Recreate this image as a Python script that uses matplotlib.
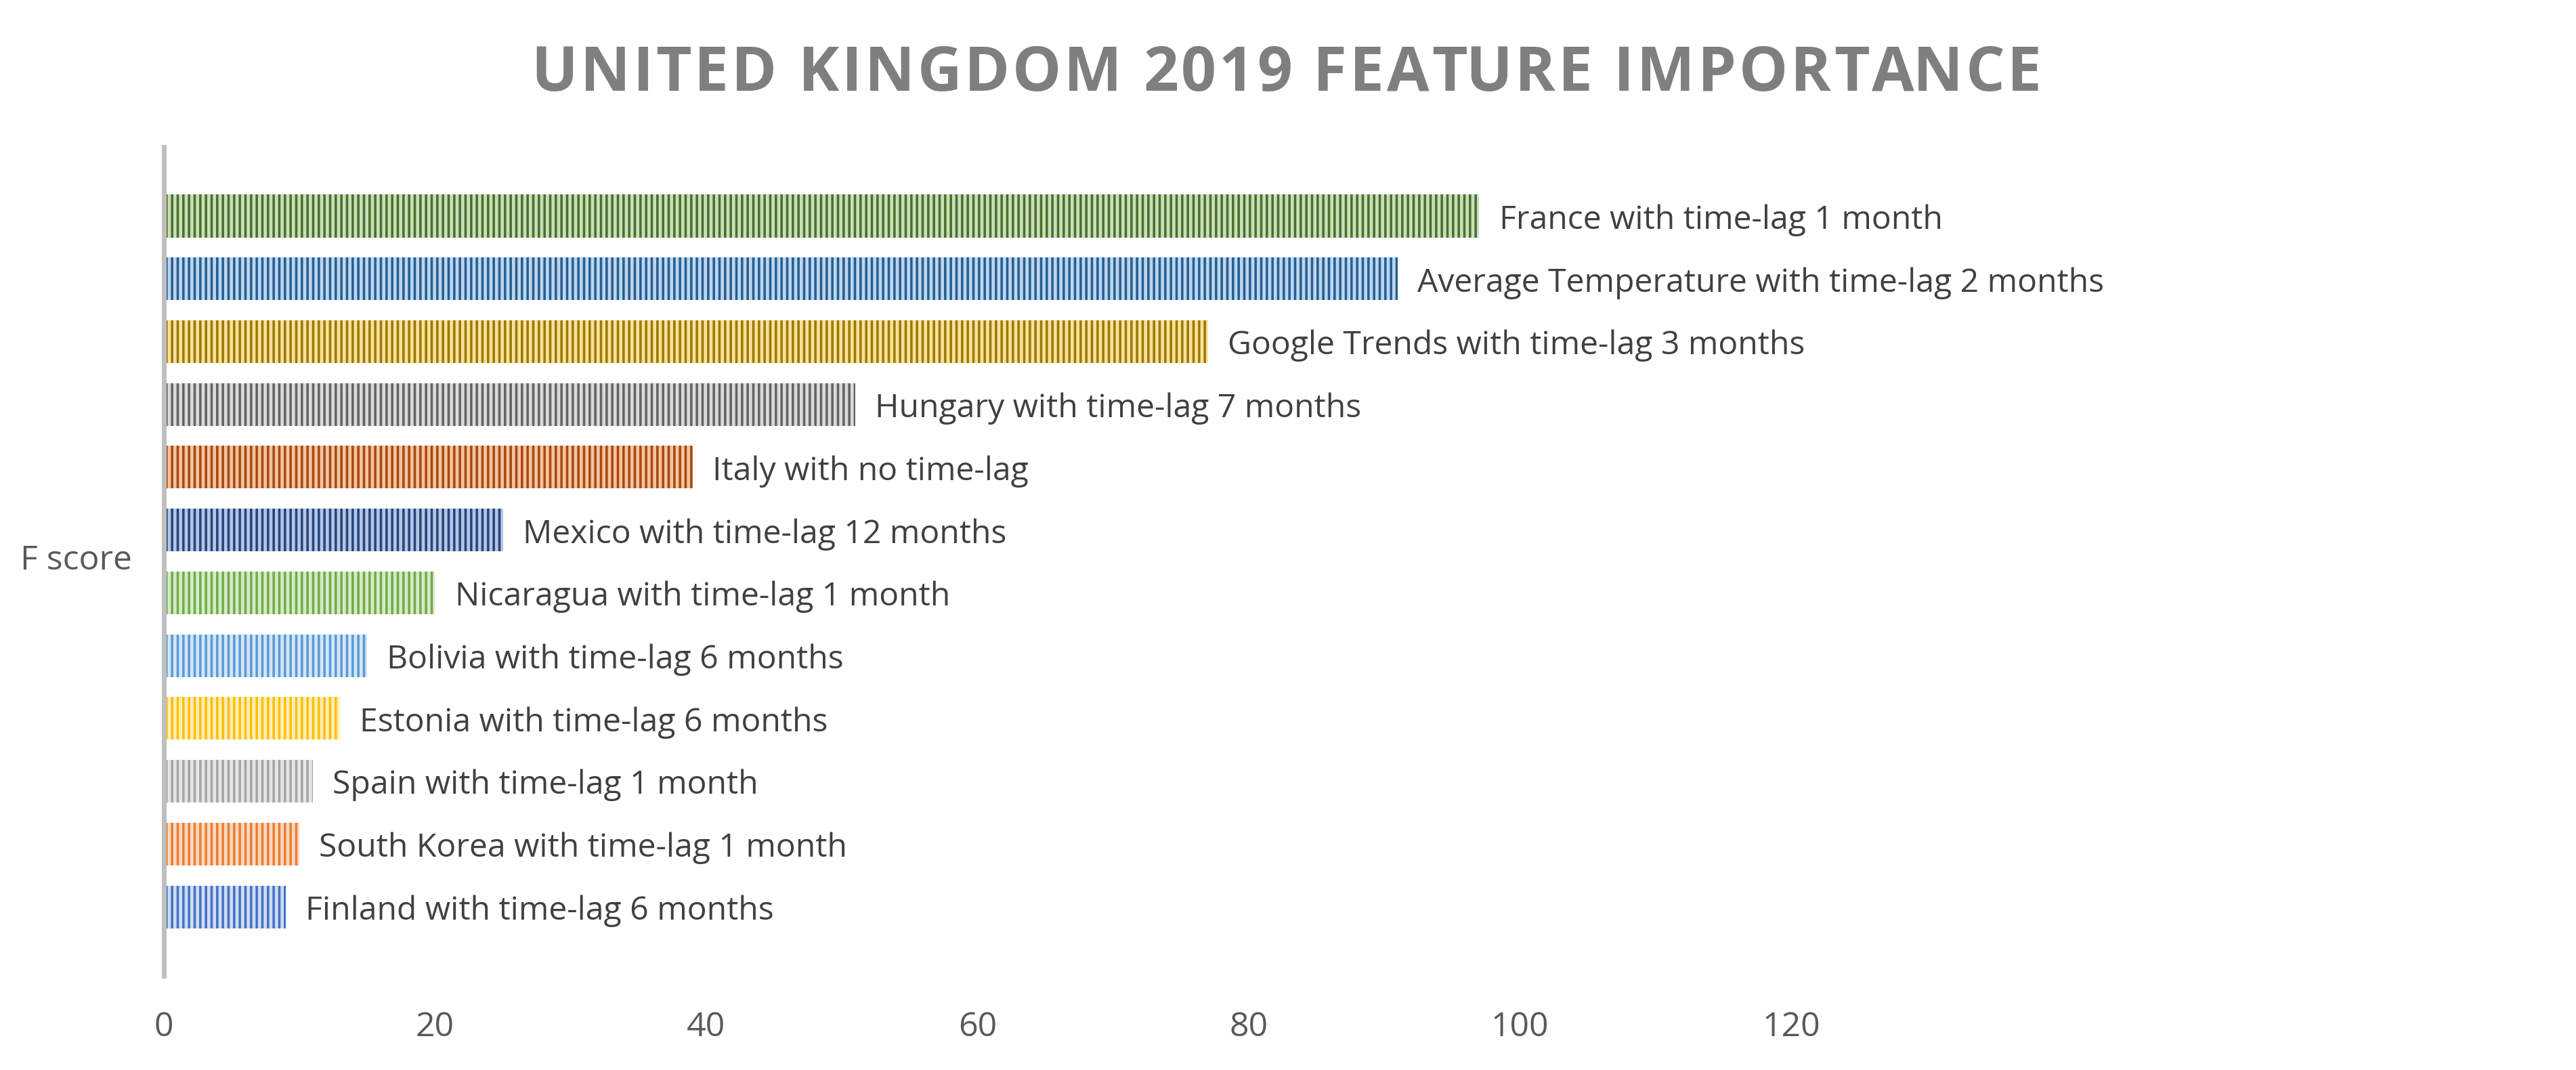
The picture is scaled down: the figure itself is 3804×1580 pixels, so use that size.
import matplotlib
matplotlib.use("Agg")
import matplotlib.pyplot as plt

# features, top to bottom
features = [
    "France with time-lag 1 month",
    "Average Temperature with time-lag 2 months",
    "Google Trends with time-lag 3 months",
    "Hungary with time-lag 7 months",
    "Italy with no time-lag",
    "Mexico with time-lag 12 months",
    "Nicaragua with time-lag 1 month",
    "Bolivia with time-lag 6 months",
    "Estonia with time-lag 6 months",
    "Spain with time-lag 1 month",
    "South Korea with time-lag 1 month",
    "Finland with time-lag 6 months",
]
f_scores = [97, 91, 77, 51, 39, 25, 20, 15, 13, 11, 10, 9]
x_ticks = [0, 20, 40, 60, 80, 100, 120]
title = "UNITED KINGDOM 2019 FEATURE IMPORTANCE"

# stripe colour / light fill per bar
stripe_colors = ["#4a6f2d", "#255e91", "#9e7800", "#636363", "#a9480f", "#26447a",
                 "#70ad47", "#5b9bd5", "#ffc000", "#a5a5a5", "#ed7d31", "#4472c4"]
fill_colors = ["#c9dfb8", "#bcd5ee", "#f7e19a", "#dadada", "#f3c3a0", "#b3c5e6",
               "#d6e9c9", "#d3e5f6", "#ffeebb", "#e6e6e6", "#f9d9c2", "#cfdcf2"]

plt.rcParams["font.family"] = ["Open Sans", "DejaVu Sans"]
plt.rcParams["hatch.linewidth"] = 0.85

W, H = 3804, 1581
fig = plt.figure(figsize=(W / 300, H / 300), dpi=300)
ax = fig.add_axes([0.0636, 0.0879, 0.6317, 0.7742])

n = len(features)
ypos = [n - 1 - i for i in range(n)]
for y, v, sc, fc in zip(ypos, f_scores, stripe_colors, fill_colors):
    ax.barh(y, v, height=0.68, color=fc, edgecolor=sc, linewidth=0, hatch="|" * 6)

for y, v, lab in zip(ypos, f_scores, features):
    ax.annotate(lab, (v, y), xytext=(7, -4.3), textcoords="offset points",
                ha="left", va="baseline", fontsize=11.55, color="#404040",
                annotation_clip=False)

ax.set_xlim(0, 120)
ax.set_ylim(-1.1, n - 1 + 1.1)
ax.set_xticks(x_ticks)
ax.set_yticks([])
ax.tick_params(axis="x", length=0, pad=12, labelsize=12, labelcolor="#595959")
for s in ["top", "right", "bottom"]:
    ax.spines[s].set_visible(False)
ax.spines["left"].set_color("#bfbfbf")
ax.spines["left"].set_linewidth(1.7)

fig.text(112 / W, 1 - 828 / H, "F score", ha="center", va="center",
         fontsize=12, color="#595959")

# title with letter spacing (Excel style)
renderer = fig.canvas.get_renderer()
tkw = dict(fontsize=21.8, fontweight="bold", color="#7f7f7f", va="baseline", ha="left")


def text_w(s):
    t = fig.text(0, 0, s + "I", **tkw)
    w = t.get_window_extent(renderer).width
    t.remove()
    return w


w_i = text_w("")
x0, x1 = 784, 3015
plain = text_w(title) - w_i
spacing = ((x1 - x0) - plain) / (len(title) - 1)
for i, ch in enumerate(title):
    if ch == " ":
        continue
    xp = x0 + text_w(title[:i]) - w_i + i * spacing
    fig.text(xp / W, 1 - 134 / H, ch, **tkw)

fig.savefig("out.png", dpi=300)
